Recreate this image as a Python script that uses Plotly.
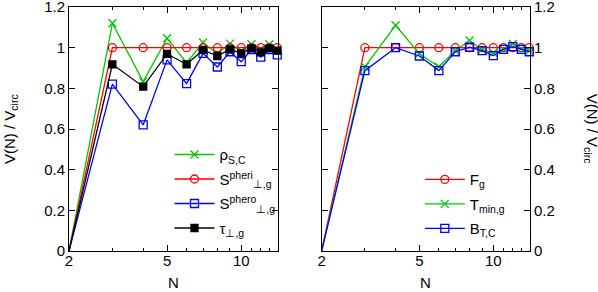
import math
import plotly.graph_objects as go

N = [2, 3, 4, 5, 6, 7, 8, 9, 10, 11, 12, 13, 14]

# Left panel
rho_SC = [0, 1.12, 0.833, 1.046, 0.926, 1.025, 0.97, 1.02, 0.985, 1.017, 0.995, 1.017, 0.99]
S_pheri = [0, 1, 1, 1, 1, 1, 1, 1, 1, 1, 1, 1, 1]
S_phero = [0, 0.821, 0.62, 0.94, 0.823, 0.972, 0.905, 0.98, 0.931, 0.99, 0.953, 0.99, 0.965]
tau_g = [0, 0.918, 0.808, 0.969, 0.918, 0.989, 0.959, 0.992, 0.972, 0.997, 0.977, 0.997, 0.985]

# Right panel
F_g = [0, 1, 1, 1, 1, 1, 1, 1, 1, 1, 1, 1, 1]
T_min = [0, 0.906, 1.11, 0.97, 0.906, 0.985, 1.035, 0.99, 0.975, 0.992, 1.018, 0.995, 0.985]
B_TC = [0, 0.887, 1.0, 0.959, 0.887, 0.98, 1.002, 0.985, 0.961, 0.992, 1.005, 0.992, 0.98]

x_tickvals = [2, 5, 10]
x_minor = [3, 4, 6, 7, 8, 9, 11, 12, 13, 14]
y_tickvals = [0, 0.2, 0.4, 0.6, 0.8, 1, 1.2]
y_ticktext = ["0", "0.2", "0.4", "0.6", "0.8", "1", "1.2"]

GREEN = "#00c800"
RED = "#ff0000"
BLUE = "#0000ff"
BLACK = "#000000"
FONT = "Liberation Sans, Arial, sans-serif"
FS = 15

fig = go.Figure()

def add(x, y, name, color, symbol, xa, ya, legend, group, size=8):
    fig.add_trace(go.Scatter(
        x=x, y=y, name=name, mode="lines+markers",
        line=dict(color=color, width=1.3),
        marker=dict(symbol=symbol, size=size, color=color,
                    line=dict(color=color, width=1.3)),
        xaxis=xa, yaxis=ya, legend=legend, legendgroup=group, cliponaxis=False,
        hoverinfo="skip"))

add(N, rho_SC, "ρ<sub>S,C</sub>", GREEN, "x-thin-open", "x", "y", "legend", "a1")
add(N, S_pheri, "S<sup>pheri</sup><sub>⊥,g</sub>", RED, "circle-open", "x", "y", "legend", "a2")
add(N, S_phero, "S<sup>phero</sup><sub>⊥,g</sub>", BLUE, "square-open", "x", "y", "legend", "a3")
add(N, tau_g, "τ<sub>⊥,g</sub>", BLACK, "square", "x", "y", "legend", "a4", size=7)

add(N, F_g, "F<sub>g</sub>", RED, "circle-open", "x2", "y2", "legend2", "b1")
add(N, T_min, "T<sub>min,g</sub>", GREEN, "x-thin-open", "x2", "y2", "legend2", "b2")
add(N, B_TC, "B<sub>T,C</sub>", BLUE, "square-open", "x2", "y2", "legend2", "b3")

xr = [math.log10(2), math.log10(14.1)]
xcommon = dict(type="log", range=xr, tickmode="array", tickvals=x_tickvals,
               ticktext=[str(v) for v in x_tickvals], ticks="inside", ticklen=6,
               tickwidth=1, tickcolor="black", showline=True, linecolor="black",
               linewidth=1, mirror="ticks", showgrid=False, zeroline=False,
               automargin=False, ticklabelstandoff=-4, ticklabeloverflow="allow",
               minor=dict(tickmode="array", tickvals=x_minor,
                          ticks="inside", ticklen=3, tickcolor="black", showgrid=False),
               tickfont=dict(size=FS, color="black"))
ycommon = dict(range=[0, 1.2 + 1e-6], tickmode="array", tickvals=y_tickvals,
               ticktext=y_ticktext, ticks="inside", ticklen=6, tickcolor="black",
               showline=True, linecolor="black", linewidth=1, mirror="ticks",
               showgrid=False, zeroline=False, automargin=False,
               ticklabeloverflow="allow",
               tickfont=dict(size=FS, color="black"))

d1 = [0, 0.4534]
d2 = [0.548, 1]

ann = dict(xref="paper", yref="paper", showarrow=False,
           font=dict(size=FS, color="black"))
fig.update_layout(
    width=598, height=292,
    margin=dict(l=69, r=68, t=7, b=41, autoexpand=False),
    paper_bgcolor="white", plot_bgcolor="white",
    font=dict(family=FONT, size=FS, color="black"),
    hovermode=False,
    xaxis=dict(domain=d1, anchor="y", **xcommon),
    yaxis=dict(domain=[0, 1], anchor="x", **ycommon),
    xaxis2=dict(domain=d2, anchor="y2", **xcommon),
    yaxis2=dict(domain=[0, 1], anchor="x2", side="right", **ycommon),
    legend=dict(x=0.218, y=0.462, xanchor="left", yanchor="top",
                bgcolor="rgba(0,0,0,0)", borderwidth=0, itemwidth=40,
                font=dict(size=FS, color="black"), tracegroupgap=2),
    legend2=dict(x=0.761, y=0.36, xanchor="left", yanchor="top",
                 bgcolor="rgba(0,0,0,0)", borderwidth=0, itemwidth=40,
                 font=dict(size=FS, color="black"), tracegroupgap=2),
    showlegend=True,
    annotations=[
        dict(text="V(N) / V<sub>circ</sub>", textangle=-90, x=-0.128, y=0.5,
             xanchor="center", yanchor="middle", **ann),
        dict(text="V(N) / V<sub>circ</sub>", textangle=90, x=1.135, y=0.5,
             xanchor="center", yanchor="middle", **ann),
        dict(text="N", x=sum(d1) / 2, y=-0.13, xanchor="center", yanchor="middle", **ann),
        dict(text="N", x=sum(d2) / 2, y=-0.13, xanchor="center", yanchor="middle", **ann),
    ],
)

fig.write_html("out.html", config={"displayModeBar": False},
               post_script="document.body.style.margin='0';document.body.style.overflow='hidden';")
